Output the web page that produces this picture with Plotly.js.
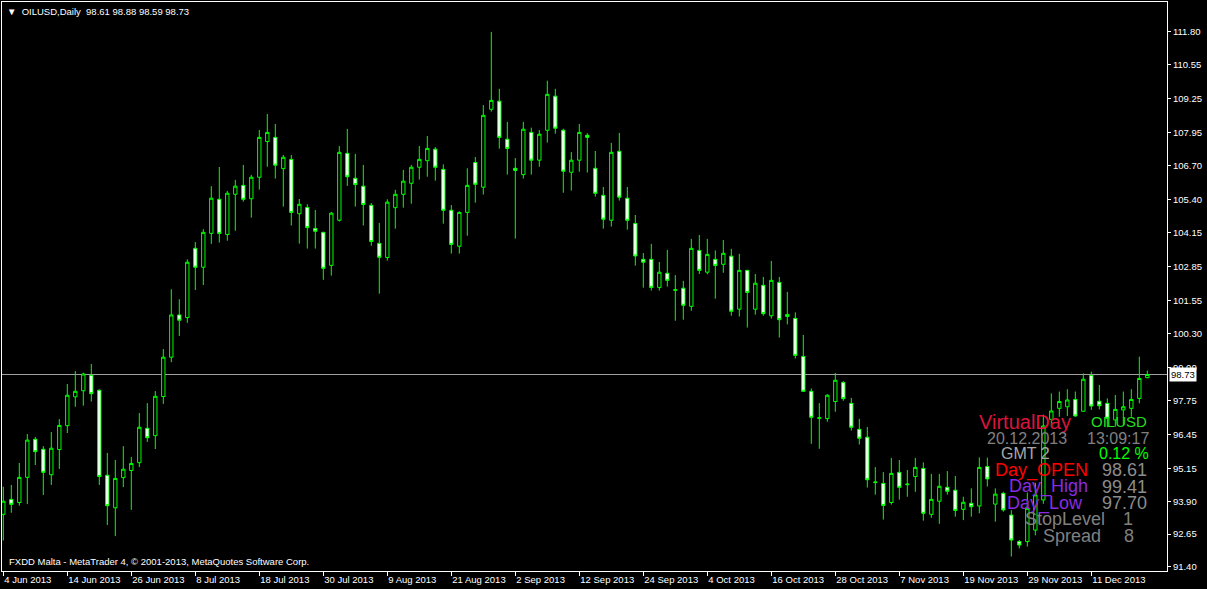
<!DOCTYPE html>
<html><head><meta charset="utf-8">
<script src="https://cdn.plot.ly/plotly-3.0.1.min.js"></script>
<style>html,body{margin:0;padding:0;background:#000;overflow:hidden}#chart{width:1207px;height:589px}</style>
</head><body><div id="chart"></div>
<script>
const symbol = "OILUSD";
const timeframe = "Daily";
const opens = [93.40,93.97,93.85,94.81,96.26,95.88,94.91,95.87,96.78,97.88,98.11,98.70,98.13,94.89,93.65,94.80,95.07,95.37,96.68,96.40,
97.89,99.39,101.00,100.90,103.54,102.82,104.11,105.41,104.07,105.60,105.94,105.43,106.25,107.61,107.77,106.58,106.93,104.86,105.10,104.30,
104.15,102.89,104.61,107.16,106.21,105.91,105.18,103.73,103.19,105.09,105.60,106.02,106.63,106.88,107.32,106.55,104.99,103.62,104.91,106.81,
105.87,108.84,109.15,107.70,106.59,106.35,107.96,106.90,108.04,109.34,108.04,106.44,106.90,107.85,106.59,105.56,104.61,107.24,105.45,104.49,
103.12,103.12,102.05,102.59,101.94,102.02,101.33,103.46,102.63,103.12,102.93,103.24,101.22,102.70,101.22,102.13,100.97,102.24,100.94,100.87,
99.42,98.09,97.06,97.05,97.70,98.43,97.63,96.64,96.34,94.61,94.58,93.85,95.00,94.53,94.84,95.15,93.40,93.90,94.43,94.32,
93.59,93.82,93.72,95.22,93.79,94.20,93.37,92.36,92.36,92.80,93.95,97.02,97.44,97.50,97.78,97.33,98.69,97.71,97.63,97.00,
97.38,97.44,97.82,98.61];
const highs = [94.45,94.52,95.36,96.46,96.35,96.00,96.54,97.03,98.37,98.86,98.80,99.13,98.16,95.74,95.47,96.00,95.59,97.26,97.64,98.10,
99.70,101.98,101.60,103.12,103.78,104.27,105.91,106.64,105.73,106.15,106.72,106.34,108.05,108.66,108.28,107.10,107.10,105.42,105.22,105.00,
104.17,104.93,107.44,108.09,107.14,106.72,105.27,104.51,105.41,105.77,106.53,106.72,107.44,107.82,107.40,106.74,105.19,104.95,106.59,107.02,
109.00,111.79,109.62,108.36,106.98,108.36,108.14,108.05,109.93,109.62,108.10,107.21,108.28,107.93,107.25,105.88,107.56,107.94,105.88,104.81,
103.36,103.71,103.02,103.48,102.52,102.30,103.90,104.05,103.90,103.46,103.86,103.52,103.33,102.72,102.56,102.45,103.06,102.45,101.88,101.10,
100.24,98.20,97.64,97.98,98.79,98.48,97.84,97.04,96.73,95.20,95.01,95.55,95.47,95.09,95.55,95.38,94.94,94.94,95.05,94.86,
94.07,94.39,95.57,95.56,94.39,94.26,93.56,92.42,94.23,94.60,97.20,98.01,98.08,98.17,98.08,98.77,98.84,98.33,97.82,97.95,
98.08,98.17,99.41,98.88];
const lows = [92.40,93.46,93.73,93.79,95.28,94.14,94.52,95.13,96.50,97.50,97.54,97.70,94.52,92.99,92.57,94.44,93.57,95.20,96.16,95.89,
97.61,99.20,100.20,100.70,101.95,102.14,103.71,103.76,103.83,104.21,105.32,104.71,105.78,106.65,106.20,105.13,104.41,103.72,103.53,103.53,
102.34,102.50,104.56,105.92,105.13,104.41,103.64,101.81,103.07,104.29,105.09,105.24,106.16,106.27,106.12,104.48,103.34,103.34,104.02,105.28,
105.59,108.75,107.34,106.35,103.91,106.20,106.35,106.65,107.57,107.91,105.66,105.74,106.46,106.43,105.51,104.29,104.37,105.36,104.25,102.88,
102.04,101.93,101.93,102.08,100.78,100.82,101.16,102.56,102.55,101.62,102.61,100.97,100.94,100.52,101.01,100.97,100.86,100.14,100.64,99.34,
98.07,96.09,95.90,96.93,97.31,97.73,96.59,96.06,94.42,94.15,93.20,93.77,93.96,94.07,94.26,93.16,93.27,93.04,94.15,93.31,
93.18,93.31,93.44,94.46,93.12,93.50,91.79,92.10,92.17,92.60,93.80,96.74,97.12,97.15,97.12,97.31,97.38,97.40,96.72,96.74,
96.81,97.12,97.63,98.59];
const closes = [93.90,93.78,94.81,96.23,95.79,95.00,95.92,96.79,97.94,98.09,98.75,98.00,94.84,93.73,94.77,95.12,95.34,96.72,96.32,97.90,
99.39,101.00,100.80,103.01,102.82,104.15,105.45,104.11,105.64,105.91,105.41,106.25,107.77,107.96,106.71,107.01,104.91,105.22,104.33,104.19,
102.78,104.88,107.20,106.27,105.97,105.21,103.80,103.20,105.30,105.60,106.10,106.63,106.93,107.35,106.63,104.99,103.69,104.91,105.94,105.98,
108.61,109.18,107.77,107.35,106.51,108.08,106.90,107.89,109.41,108.12,106.48,106.90,107.96,107.77,105.64,104.65,107.20,105.49,104.61,103.25,
103.01,102.05,102.63,102.32,101.96,101.37,103.54,102.70,103.31,102.89,103.35,101.14,102.70,101.86,102.21,101.05,102.32,100.82,101.02,99.46,
98.09,97.10,97.08,97.94,98.51,97.81,96.72,96.30,94.72,94.63,93.74,94.96,94.43,94.55,95.19,93.44,93.97,94.47,94.28,93.55,
93.86,93.69,95.19,94.75,94.17,93.57,92.42,92.23,93.63,94.14,96.77,97.34,97.70,97.76,97.15,98.55,97.53,97.54,97.06,97.40,
97.50,97.78,98.58,98.73];
const dateLabels = ["4 Jun 2013","14 Jun 2013","26 Jun 2013","8 Jul 2013","18 Jul 2013","30 Jul 2013","9 Aug 2013","21 Aug 2013","2 Sep 2013",
"12 Sep 2013","24 Sep 2013","4 Oct 2013","16 Oct 2013","28 Oct 2013","7 Nov 2013","19 Nov 2013","29 Nov 2013","11 Dec 2013"];
const barsPerLabel = 8;
const priceTicks = [111.80,110.55,109.25,107.95,106.70,105.40,104.15,102.85,101.55,100.30,99.00,97.75,96.45,95.15,93.90,92.65,91.40];
const footerText = "FXDD Malta - MetaTrader 4, \u00a9 2001-2013, MetaQuotes Software Corp.";
// info panel (indicator text)
const panelLabels = ["VirtualDay","20.12.2013","GMT 2","Day_OPEN","Day_High","Day_Low","StopLevel","Spread"];
const panelValues = ["OILUSD","13:09:17","0.12 %","98.61","99.41","97.70","1","8"];

const n = closes.length;
const xIdx = Array.from({length:n},(_,i)=>i);
const lime = "#00ff00";

const trace = {
  type:"candlestick", x:xIdx, open:opens, high:highs, low:lows, close:closes,
  increasing:{line:{color:lime,width:1}, fillcolor:"#000000"},
  decreasing:{line:{color:lime,width:1}, fillcolor:"#ffffff"},
  whiskerwidth:0, hoverinfo:"skip", showlegend:false
};

// plot frame in pixels
const L=2, R=1167, T=2, B=571;
const px = x => (x-L)/(R-L);
const py = y => (B-y)/(B-T);

const last = n-1;
const fontUI = "Liberation Sans, Arial, sans-serif";
const annotations = [];
annotations.push({xref:"paper",yref:"paper",x:0,y:1,xanchor:"left",yanchor:"top",xshift:3,yshift:-2,showarrow:false,
  text:"\u25BC  "+symbol+","+timeframe+"  "+[opens[last],highs[last],lows[last],closes[last]].map(v=>v.toFixed(2)).join(" "),
  font:{family:fontUI,size:9.5,color:"#ffffff"}});
annotations.push({xref:"paper",yref:"paper",x:0,y:0,xanchor:"left",yanchor:"bottom",xshift:5,yshift:2,showarrow:false,
  text:footerText,font:{family:fontUI,size:9.5,color:"#ffffff"}});
annotations.push({xref:"paper",yref:"y",x:1,y:closes[last],xanchor:"left",yanchor:"middle",xshift:2,showarrow:false,
  text:closes[last].toFixed(2),bgcolor:"#ffffff",borderpad:1,font:{family:fontUI,size:9.5,color:"#000000"}});

// panel layout: [left px, center y, size, color] and values [right px, size, color]
const panelL = [[977,421.5,20,"#dc143c"],[985,438.5,16,"#808080"],[999,453.5,16,"#a8a8a8"],[993,470,18,"#ff0000"],
  [1007,486.5,18,"#8a2be2"],[1005,503,18,"#8a2be2"],[1023,519,18,"#808080"],[1041,535.5,18,"#808080"]];
const panelV = [[1149,15,"#22dd22"],[1151,16,"#808080"],[1151,16,"#00ff00"],[1149,18,"#8c8c8c"],
  [1149,18,"#8c8c8c"],[1149,18,"#8c8c8c"],[1135,18,"#808080"],[1136,18,"#808080"]];
panelLabels.forEach((t,i)=>{
  const p=panelL[i];
  annotations.push({xref:"paper",yref:"paper",x:px(p[0]),y:py(p[1]),xanchor:"left",yanchor:"middle",showarrow:false,
    text:t,font:{family:fontUI,size:p[2],color:p[3]}});
  const v=panelV[i];
  annotations.push({xref:"paper",yref:"paper",x:px(v[0]),y:py(p[1]),xanchor:"right",yanchor:"middle",showarrow:false,
    text:panelValues[i],font:{family:fontUI,size:v[1],color:v[2]}});
});

const layout = {
  width:1207, height:589,
  margin:{l:L, r:1207-R, t:T, b:589-B, pad:0},
  paper_bgcolor:"#000000", plot_bgcolor:"#000000",
  showlegend:false, boxgap:0.4, dragmode:false,
  xaxis:{type:"linear", range:[-0.1625,145.46], rangeslider:{visible:false},
    tickvals:dateLabels.map((_,i)=>i*barsPerLabel), ticktext:dateLabels,
    ticklabelposition:"outside right", ticks:"outside", ticklen:4, tickcolor:"#ffffff",
    tickfont:{family:fontUI,size:9.5,color:"#ffffff"},
    showgrid:false, zeroline:false, showline:true, mirror:true, linecolor:"#ffffff", linewidth:1, fixedrange:true},
  yaxis:{side:"right", range:[91.24,112.93], tickvals:priceTicks, ticktext:priceTicks.map(v=>v.toFixed(2)),
    ticks:"outside", ticklen:3, tickcolor:"#ffffff", tickfont:{family:fontUI,size:9.5,color:"#ffffff"},
    showgrid:false, zeroline:false, showline:true, mirror:true, linecolor:"#ffffff", linewidth:1, fixedrange:true},
  shapes:[{type:"line",xref:"paper",yref:"y",x0:0,x1:1,y0:closes[last],y1:closes[last],line:{color:"#a0a0a0",width:1},layer:"below"}],
  annotations:annotations
};
Plotly.newPlot("chart",[trace],layout,{displayModeBar:false,staticPlot:true});
</script></body></html>
